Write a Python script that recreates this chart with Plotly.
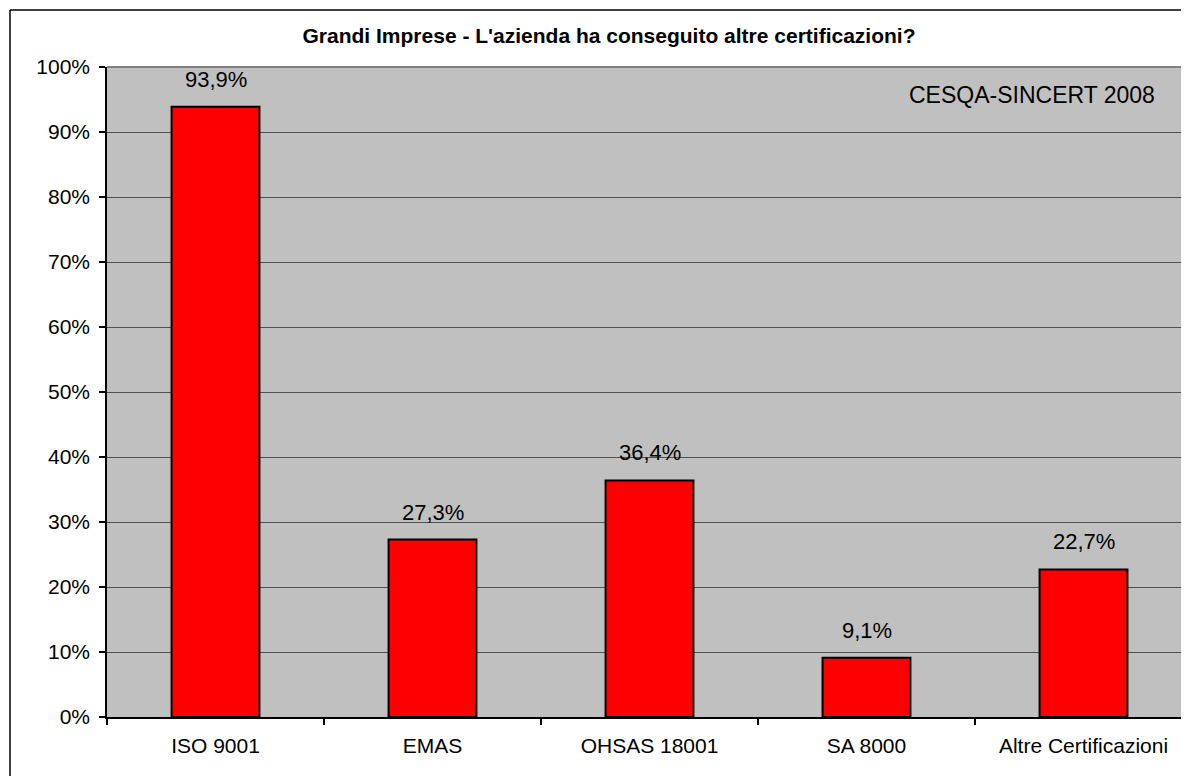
import plotly.graph_objects as go

categories = ["ISO 9001", "EMAS", "OHSAS 18001", "SA 8000", "Altre Certificazioni"]
values = [0.939, 0.273, 0.364, 0.091, 0.227]
value_labels = ["93,9%", "27,3%", "36,4%", "9,1%", "22,7%"]
title_text = "Grandi Imprese - L'azienda ha conseguito altre certificazioni?"
source_text = "CESQA-SINCERT 2008"

FONT = "Liberation Sans, Arial, sans-serif"
OFF = 8  # browser default body margin
W, H = 1189 - 2 * OFF, 784 - 2 * OFF
L, R, T = 107 - OFF, 0, 67 - OFF
B = H - (717 - OFF)
pw, ph = W - L - R, H - T - B
CAT_PX = 217  # width of one category in the reference
x_hi = -0.5 + pw / CAT_PX

def px_x(px):
    return (px - OFF - L) / pw

def px_y(py):
    return (H - B - (py - OFF)) / ph

fig = go.Figure()
fig.add_trace(go.Bar(
    x=categories, y=values,
    marker=dict(color="#FF0000", line=dict(color="black", width=2)),
    hoverinfo="skip",
))

annotations = []
for c, v, t in zip(categories, values, value_labels):
    annotations.append(dict(x=c, y=v, xref="x", yref="y", text=t, showarrow=False,
                            yanchor="bottom", yshift=13,
                            font=dict(family=FONT, size=22, color="black")))
annotations.append(dict(x=px_x(1157), y=px_y(95), xref="paper", yref="paper", text=source_text,
                        showarrow=False, xanchor="right", yanchor="middle",
                        font=dict(family=FONT, size=23, color="black")))

fig.update_layout(
    width=W, height=H,
    margin=dict(l=L, r=R, t=T, b=B, pad=0),
    paper_bgcolor="white",
    plot_bgcolor="#C0C0C0",
    bargap=0.595,
    showlegend=False,
    title=dict(text="<b>" + title_text + "</b>", x=(609 - OFF) / W, xref="container", xanchor="center",
               y=1 - (36 - OFF) / H, yref="container", yanchor="middle",
               font=dict(family=FONT, size=21, color="black")),
    annotations=annotations,
    xaxis=dict(
        type="category", range=[-0.5, x_hi],
        showline=True, linecolor="black", linewidth=1.5,
        ticks="outside", tickson="boundaries", ticklen=6, tickcolor="black", tickwidth=1.5,
        showgrid=False,
        tickfont=dict(family=FONT, size=21, color="black"),
        ticklabelstandoff=9,
    ),
    yaxis=dict(
        range=[0, 1], dtick=0.1, tickformat=".0%",
        showline=True, linecolor="black", linewidth=1.5,
        ticks="outside", ticklen=6, tickcolor="black", tickwidth=1.5,
        showgrid=True, gridcolor="#505050", gridwidth=1,
        zeroline=False,
        tickfont=dict(family=FONT, size=21, color="black"),
        ticklabelstandoff=5,
    ),
    shapes=[
        dict(type="line", xref="paper", yref="paper", x0=0, x1=1.02, y0=1, y1=1,
             line=dict(color="#808080", width=2), layer="above"),
        dict(type="line", xref="paper", yref="paper",
             x0=px_x(10), x1=px_x(1300), y0=px_y(10), y1=px_y(10),
             line=dict(color="black", width=1.5), layer="above"),
        dict(type="line", xref="paper", yref="paper",
             x0=px_x(10), x1=px_x(10), y0=px_y(10), y1=px_y(900),
             line=dict(color="black", width=1.5), layer="above"),
    ],
)

fig.write_html("out.html")
